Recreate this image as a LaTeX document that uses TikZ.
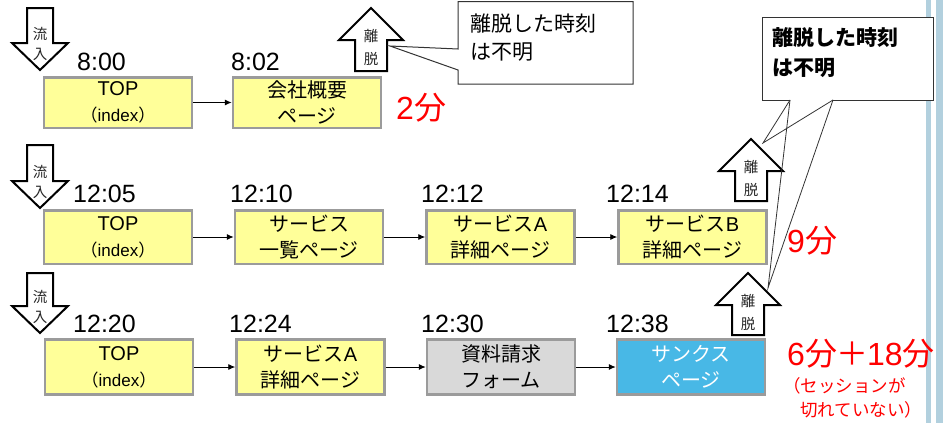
\documentclass[tikz,border=0pt]{standalone}
\usepackage{fontspec}
\setmainfont{Liberation Sans}
\newfontfamily\jp{Noto Sans CJK JP}
\usetikzlibrary{arrows.meta}
\definecolor{yel}{RGB}{255,255,153}
\definecolor{bgray}{RGB}{155,155,155}
\definecolor{fgray}{RGB}{217,217,217}
\definecolor{sky}{RGB}{72,184,230}
\definecolor{stripe}{RGB}{178,208,222}
\newcommand\flowin[4]{% name, cx, top, tip
  \draw[blk] (#2-13,#3) -- (#2+13,#3) -- (#2+13,#4-27) -- (#2+28,#4-27) -- (#2,#4) -- (#2-28,#4-27) -- (#2-13,#4-27) -- cycle;
  \node[blktxt] (#1a) at (#2,#4-36) {流};
  \node[blktxt] (#1b) at (#2,#4-16) {入};
}
\newcommand\flowout[4]{% name, cx, tip, bottom
  \draw[blk] (#2,#3) -- (#2+32,#3+32) -- (#2+16,#3+32) -- (#2+16,#4) -- (#2-16,#4) -- (#2-16,#3+32) -- (#2-32,#3+32) -- cycle;
  \node[blktxt] (#1a) at (#2,#3+28) {離};
  \node[blktxt] (#1b) at (#2,#3+51) {脱};
}
\begin{document}
\begin{tikzpicture}[x=1pt,y=-1pt,
  pg/.style={draw=bgray, line width=2.5pt, minimum width=148pt, inner sep=0pt, align=center,
    font=\fontsize{20}{26}\selectfont},
  yp/.style={pg, fill=yel},
  conn/.style={draw=black, line width=0.9pt, -{Latex[length=7pt,width=6pt]}},
  tm/.style={anchor=base west, inner sep=0pt, font=\fontsize{25}{30}\selectfont},
  blk/.style={draw=black, line width=2pt, fill=white, line join=miter},
  blktxt/.style={inner sep=0pt, font=\jp\fontsize{14.5}{16}\selectfont, text=black!85},
  call/.style={draw=black!80, line width=1pt},
  ctxt/.style={anchor=west, inner sep=0pt, font=\jp\fontsize{21}{26}\selectfont},
  red/.style={text=red, inner sep=0pt, anchor=west},
  big/.style={red, font=\fontsize{32}{34}\selectfont}
]
\useasboundingbox (0,0) rectangle (943,423);
% side stripes
\fill[stripe] (926,0) rectangle (931,423);
\fill[stripe] (936,0) rectangle (943,423);

% ---------- row 1 ----------
\flowin{in1}{40}{8}{70}
\node[tm] (t11) at (77,70) {8:00};
\node[tm] (t12) at (231,70) {8:02};
\node[yp, minimum height=50.5pt] (r1a) at (118,102.5) {TOP\\{\fontsize{17}{26}\selectfont{\jp （}index{\jp ）}}};
\node[yp, minimum height=50.5pt] (r1b) at (307,102.5) {\jp 会社概要\\\jp ページ};
\draw[conn] (r1a) -- (r1b);
\flowout{out1}{371}{8}{71}
% callout 1
\coordinate (c1tip) at (390,46);
\draw[call, fill=white] (458,49) -- (458,1.5) -- (633,1.5) -- (633,84) -- (458,84) -- (458,70) -- (c1tip) -- cycle;
\node[ctxt] (c1l1) at (470,24) {離脱した時刻};
\node[ctxt] (c1l2) at (470,52) {は不明};
\node[big] (m1) at (396,108) {2{\jp 分}};

% ---------- row 2 ----------
\flowin{in2}{40}{145}{208}
\node[tm] (t21) at (73,202) {12:05};
\node[tm] (t22) at (230,202) {12:10};
\node[tm] (t23) at (421,202) {12:12};
\node[tm] (t24) at (606,202) {12:14};
\node[yp, minimum height=53.5pt] (r2a) at (118,237) {TOP\\{\fontsize{17}{26}\selectfont{\jp （}index{\jp ）}}};
\node[yp, minimum height=53.5pt] (r2b) at (309,237) {\jp サービス\\\jp 一覧ページ};
\node[yp, minimum height=53.5pt] (r2c) at (500.5,237) {{\jp サービス}A\\\jp 詳細ページ};
\node[yp, minimum height=53.5pt] (r2d) at (692.5,237) {{\jp サービス}B\\\jp 詳細ページ};
\draw[conn] (r2a) -- (r2b);
\draw[conn] (r2b) -- (r2c);
\draw[conn] (r2c) -- (r2d);
\flowout{out2}{751}{139}{201}
\node[big] (m2) at (787,241) {9{\jp 分}};

% ---------- row 3 ----------
\flowin{in3}{40}{273}{333}
\node[tm] (t31) at (73,332) {12:20};
\node[tm] (t32) at (229,332) {12:24};
\node[tm] (t33) at (421,332) {12:30};
\node[tm] (t34) at (606,332) {12:38};
\node[yp, minimum height=55pt] (r3a) at (119,367) {TOP\\{\fontsize{17}{26}\selectfont{\jp （}index{\jp ）}}};
\node[yp, minimum height=55pt] (r3b) at (310.5,367) {{\jp サービス}A\\\jp 詳細ページ};
\node[pg, fill=fgray, minimum height=55pt] (r3c) at (501,367) {\jp 資料請求\\\jp フォーム};
\node[pg, fill=sky, text=white, minimum height=55pt] (r3d) at (691,367) {\jp サンクス\\\jp ページ};
\draw[conn] (r3a) -- (r3b);
\draw[conn] (r3b) -- (r3c);
\draw[conn] (r3c) -- (r3d);
\flowout{out3}{748}{273}{335}
\node[big] (m3) at (787,354) {6{\jp 分}\kern-1pt{\jp ＋}\kern-1pt18{\jp 分}};
\node[red, font=\jp\fontsize{17.5}{20}\selectfont] (m3a) at (783,386) {（セッションが};
\node[red, font=\jp\fontsize{17.5}{20}\selectfont] (m3b) at (800,410) {切れていない）};

% ---------- callout 2 ----------
\coordinate (c2a) at (790,100);
\coordinate (c2b) at (833,100);
\coordinate (c2t1) at (763,143);
\coordinate (c2t2) at (768,288);
\fill[white] (762,17) rectangle (933,100);
\draw[call] (c2a) -- (762,100) -- (762,17) -- (933,17) -- (933,100) -- (c2b);
\draw[call, line width=0.8pt] (c2a) -- (c2t1) -- (c2b);
\draw[call, line width=0.8pt] (c2a) -- (c2t2) -- (c2b);
\node[ctxt, font=\jp\bfseries\fontsize{21}{26}\selectfont] (c2l1) at (772,38) {離脱した時刻};
\node[ctxt, font=\jp\bfseries\fontsize{21}{26}\selectfont] (c2l2) at (772,68) {は不明};
\end{tikzpicture}
\end{document}
